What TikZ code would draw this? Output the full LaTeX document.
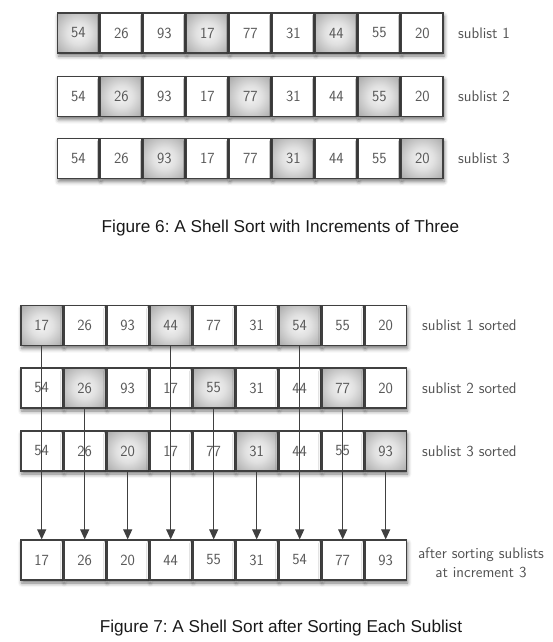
\documentclass[tikz,border=0pt]{standalone}
\usepackage{fontspec}
\usepackage{tikz}
\usetikzlibrary{positioning,arrows.meta,shadows.blur}
\newfontfamily\capfont{Liberation Sans}
\frenchspacing

\pgfdeclareradialshading{boxshade}{\pgfpoint{0bp}{0bp}}{color(0bp)=(black!4); color(14bp)=(black!12); color(50bp)=(black!48)}

\begin{document}
\begin{tikzpicture}[x=1pt, y=-1pt, node distance=0.3pt,
    basecell/.style={rectangle, draw=black!75, line width=1.2pt, minimum width=41.5pt, minimum height=40pt, inner sep=0pt, text=black!65, font=\sffamily\fontsize{15.5}{15.5}\selectfont, blur shadow={shadow xshift=1pt, shadow yshift=-3pt, shadow blur radius=4pt, shadow opacity=55}},
    cell/.style={basecell, fill=white},
    hicell/.style={basecell, shading=boxshade},
    lab/.style={anchor=west, inner sep=0pt, text=black!68, font=\sffamily\fontsize{15.3}{15.3}\selectfont},
    caption/.style={text=black!90, font=\capfont\fontsize{17.2}{17.2}\selectfont},
    arrow/.style={-{Triangle[length=10pt, width=9pt]}, draw=black!75, line width=0.9pt}]

    \useasboundingbox (0,0) rectangle (552,642);

    % Figure 6
    \node[hicell] (a1) at (78.3,33) {54};
    \node[cell, right=of a1] (a2) {26};
    \node[cell, right=of a2] (a3) {93};
    \node[hicell, right=of a3] (a4) {17};
    \node[cell, right=of a4] (a5) {77};
    \node[cell, right=of a5] (a6) {31};
    \node[hicell, right=of a6] (a7) {44};
    \node[cell, right=of a7] (a8) {55};
    \node[cell, right=of a8] (a9) {20};
    \node[lab] (lab1) at (458,33) {sublist 1};

    \node[cell] (b1) at (78.3,96.5) {54};
    \node[hicell, right=of b1] (b2) {26};
    \node[cell, right=of b2] (b3) {93};
    \node[cell, right=of b3] (b4) {17};
    \node[hicell, right=of b4] (b5) {77};
    \node[cell, right=of b5] (b6) {31};
    \node[cell, right=of b6] (b7) {44};
    \node[hicell, right=of b7] (b8) {55};
    \node[cell, right=of b8] (b9) {20};
    \node[lab] (lab2) at (458,96.5) {sublist 2};

    \node[cell] (c1) at (78.3,158.5) {54};
    \node[cell, right=of c1] (c2) {26};
    \node[hicell, right=of c2] (c3) {93};
    \node[cell, right=of c3] (c4) {17};
    \node[cell, right=of c4] (c5) {77};
    \node[hicell, right=of c5] (c6) {31};
    \node[cell, right=of c6] (c7) {44};
    \node[cell, right=of c7] (c8) {55};
    \node[hicell, right=of c8] (c9) {20};
    \node[lab] (lab3) at (458,158.5) {sublist 3};

    \node[caption] (cap6) at (280.5,228) {Figure 6: A Shell Sort with Increments of Three};

    % Figure 7
    \node[hicell] (d1) at (41.7,325.5) {17};
    \node[cell, right=of d1] (d2) {26};
    \node[cell, right=of d2] (d3) {93};
    \node[hicell, right=of d3] (d4) {44};
    \node[cell, right=of d4] (d5) {77};
    \node[cell, right=of d5] (d6) {31};
    \node[hicell, right=of d6] (d7) {54};
    \node[cell, right=of d7] (d8) {55};
    \node[cell, right=of d8] (d9) {20};
    \node[lab] (lab4) at (422,325.5) {sublist 1 sorted};

    \node[cell] (e1) at (41.7,388) {54};
    \node[hicell, right=of e1] (e2) {26};
    \node[cell, right=of e2] (e3) {93};
    \node[cell, right=of e3] (e4) {17};
    \node[hicell, right=of e4] (e5) {55};
    \node[cell, right=of e5] (e6) {31};
    \node[cell, right=of e6] (e7) {44};
    \node[hicell, right=of e7] (e8) {77};
    \node[cell, right=of e8] (e9) {20};
    \node[lab] (lab5) at (422,388) {sublist 2 sorted};

    \node[cell] (f1) at (41.7,451) {54};
    \node[cell, right=of f1] (f2) {26};
    \node[hicell, right=of f2] (f3) {20};
    \node[cell, right=of f3] (f4) {17};
    \node[cell, right=of f4] (f5) {77};
    \node[hicell, right=of f5] (f6) {31};
    \node[cell, right=of f6] (f7) {44};
    \node[cell, right=of f7] (f8) {55};
    \node[hicell, right=of f8] (f9) {93};
    \node[lab] (lab6) at (422,451) {sublist 3 sorted};

    \node[cell] (g1) at (41.7,560) {17};
    \node[cell, right=of g1] (g2) {26};
    \node[cell, right=of g2] (g3) {20};
    \node[cell, right=of g3] (g4) {44};
    \node[cell, right=of g4] (g5) {55};
    \node[cell, right=of g5] (g6) {31};
    \node[cell, right=of g6] (g7) {54};
    \node[cell, right=of g7] (g8) {77};
    \node[cell, right=of g8] (g9) {93};
    \node[lab, anchor=center, align=center, font=\sffamily\fontsize{15.3}{19}\selectfont] (lab7) at (481,562.5) {after sorting sublists\\at increment 3};

    \node[caption] (cap7) at (281,628) {Figure 7: A Shell Sort after Sorting Each Sublist};

    \draw[arrow] (d1.south) -- (g1.north);
    \draw[arrow] (e2.south) -- (g2.north);
    \draw[arrow] (f3.south) -- (g3.north);
    \draw[arrow] (d4.south) -- (g4.north);
    \draw[arrow] (e5.south) -- (g5.north);
    \draw[arrow] (f6.south) -- (g6.north);
    \draw[arrow] (d7.south) -- (g7.north);
    \draw[arrow] (e8.south) -- (g8.north);
    \draw[arrow] (f9.south) -- (g9.north);

\end{tikzpicture}
\end{document}
